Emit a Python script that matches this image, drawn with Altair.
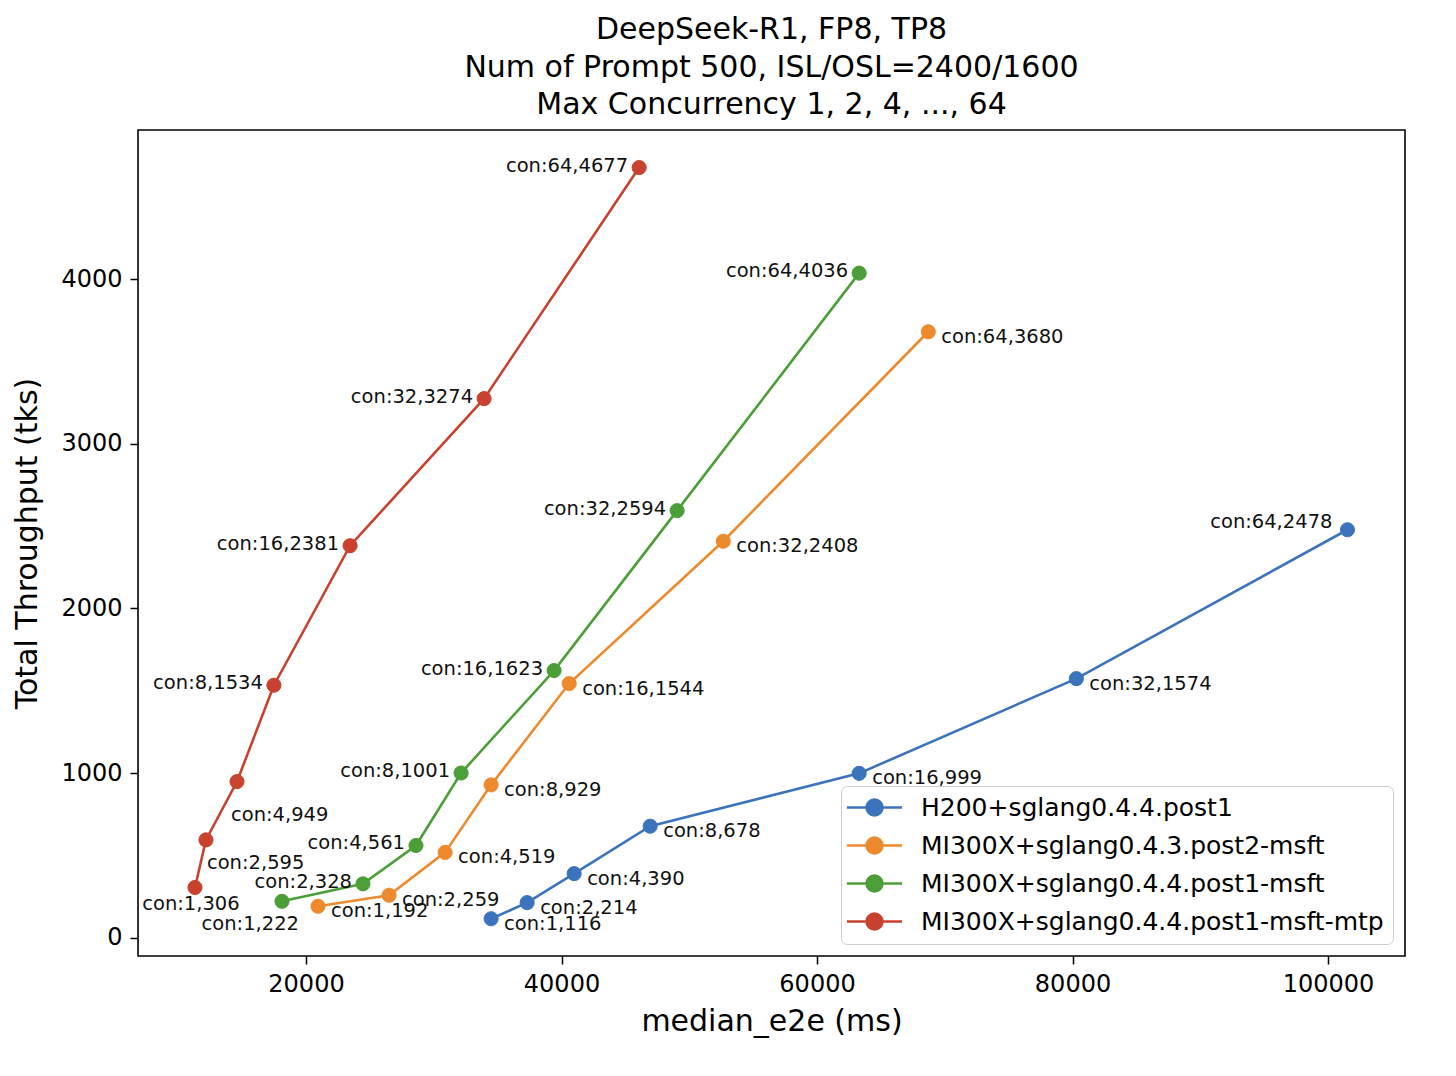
import altair as alt
import pandas as pd

# ---------------- data ----------------
series_names = [
    "H200+sglang0.4.4.post1",
    "MI300X+sglang0.4.3.post2-msft",
    "MI300X+sglang0.4.4.post1-msft",
    "MI300X+sglang0.4.4.post1-msft-mtp",
]
series_colors = ["#3b74bc", "#ee8a2e", "#4c9f38", "#c9412f"]
concurrency = [1, 2, 4, 8, 16, 32, 64]

h200_e2e = [34490, 37310, 40990, 46940, 63300, 80300, 101520]
h200_tput = [116, 214, 390, 678, 999, 1574, 2478]

mi_043_e2e = [20940, 26500, 30890, 34490, 40600, 52660, 68710]
mi_043_tput = [192, 259, 519, 929, 1544, 2408, 3680]

mi_044_e2e = [18120, 24460, 28610, 32140, 39420, 49050, 63300]
mi_044_tput = [222, 328, 561, 1001, 1623, 2594, 4036]

mtp_e2e = [11310, 12170, 14600, 17490, 23450, 33940, 46080]
mtp_tput = [306, 595, 949, 1534, 2381, 3274, 4677]

x_ticks = [20000, 40000, 60000, 80000, 100000]
y_ticks = [0, 1000, 2000, 3000, 4000]

# ---------------- label placement (style) ----------------
label_style = {
    "R": ("left", 13, 5),
    "L": ("right", -11, -2),
    "LU": ("right", -15, -8),
    "B": ("center", -4, 17),
    "BR": ("left", 1, 23),
    "BR2": ("left", -6, 33),
    "BL": ("right", 17, 23),
}
placement = [
    ["R", "R", "R", "R", "R", "R", "LU"],
    ["R", "R", "R", "R", "R", "R", "R"],
    ["BL", "L", "L", "L", "L", "L", "L"],
    ["B", "BR", "BR2", "L", "L", "L", "L"],
]

all_e2e = [h200_e2e, mi_043_e2e, mi_044_e2e, mtp_e2e]
all_tput = [h200_tput, mi_043_tput, mi_044_tput, mtp_tput]

rows = []
for si, name in enumerate(series_names):
    for ci, c in enumerate(concurrency):
        rows.append({
            "series": name,
            "con": c,
            "e2e": all_e2e[si][ci],
            "tput": all_tput[si][ci],
            "label": f"con:{c},{all_tput[si][ci]}",
            "place": placement[si][ci],
        })
df = pd.DataFrame(rows)

FONT = "DejaVu Sans"

x_enc = alt.X(
    "e2e:Q",
    scale=alt.Scale(domain=[6850, 106025], nice=False, zero=False),
    axis=alt.Axis(values=x_ticks, format="d", title="median_e2e (ms)", titlePadding=10),
)
y_enc = alt.Y(
    "tput:Q",
    scale=alt.Scale(domain=[-110, 4905], nice=False, zero=False),
    axis=alt.Axis(values=y_ticks, format="d", title="Total Throughput (tks)", titlePadding=18),
)

legend_path = "M-3.45,0H3.45M-1,0A1,1,0,1,1,1,0A1,1,0,1,1,-1,0Z"


def make_legend():
    return alt.Legend(
        title=None,
        orient="none",
        legendX=703,
        legendY=656,
        symbolType=legend_path,
        symbolSize=256,
        symbolStrokeWidth=2.5,
        symbolOffset=12,
        labelOffset=34,
        labelFontSize=25,
        labelFont=FONT,
        labelColor="#000000",
        labelLimit=0,
        rowPadding=11,
        padding=9,
        strokeColor="#cccccc",
        fillColor="rgba(255,255,255,0.85)",
        cornerRadius=6,
        symbolOpacity=1,
    )


color_scale = alt.Scale(domain=series_names, range=series_colors)
stroke_enc = alt.Stroke("series:N", scale=color_scale, legend=make_legend(), sort=series_names)
fill_enc = alt.Fill("series:N", scale=color_scale, legend=make_legend(), sort=series_names)

base = alt.Chart(df)

lines = base.mark_line(strokeWidth=2.6).encode(
    x=x_enc, y=y_enc, stroke=stroke_enc, detail="series:N", order="con:Q"
)
points = base.mark_point(filled=True, size=200, opacity=1, shape="circle", strokeWidth=1).encode(
    x=x_enc, y=y_enc, fill=fill_enc, stroke=stroke_enc
)

text_layers = []
for key, (align, dx, dy) in label_style.items():
    text_layers.append(
        base.transform_filter(alt.datum.place == key)
        .mark_text(
            align=align, baseline="middle", dx=dx, dy=dy,
            fontSize=19.5, font=FONT, color="#111111",
        )
        .encode(x=x_enc, y=y_enc, text="label:N")
    )

chart = (
    alt.layer(lines, points, *text_layers)
    .properties(
        width=1267,
        height=826,
        autosize=alt.AutoSizeParams(type="none"),
        padding={"left": 130, "top": 122, "right": 40, "bottom": 110},
        title=alt.TitleParams(
            text=[
                "DeepSeek-R1, FP8, TP8",
                "Num of Prompt 500, ISL/OSL=2400/1600",
                "Max Concurrency 1, 2, 4, ..., 64",
            ],
            fontSize=30,
            font=FONT,
            fontWeight="normal",
            lineHeight=37.5,
            anchor="middle",
            offset=10,
            color="#000000",
        ),
    )
    .configure_view(stroke="#000000", strokeWidth=1.6)
    .configure_axis(
        grid=False,
        domain=False,
        tickColor="#000000",
        tickWidth=1.5,
        tickSize=8,
        labelPadding=8,
        labelFontSize=24,
        labelFont=FONT,
        labelColor="#000000",
        titleFontSize=30,
        titleFont=FONT,
        titleFontWeight="normal",
        titleColor="#000000",
    )
)

chart.save("out.html", embed_options={"renderer": "svg", "actions": False})
